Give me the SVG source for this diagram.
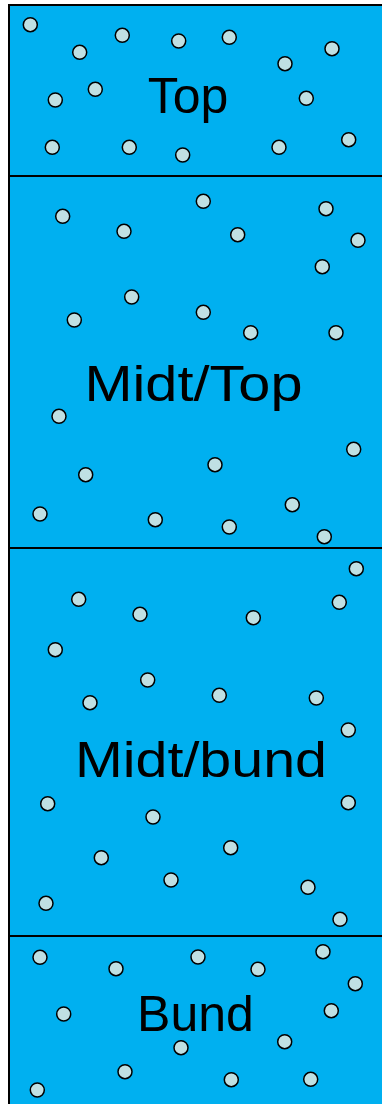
<svg xmlns="http://www.w3.org/2000/svg" width="382" height="1104" viewBox="0 0 382 1104">
<style>
.layer{fill:#00B0F0;stroke:#000;stroke-width:2}
.p{fill:#BFE0E3;stroke:#000;stroke-width:1.5}
.lbl{font-family:"Liberation Sans",Arial,sans-serif;font-size:50px;fill:#000;text-anchor:middle}
</style>
<g id="top">
<rect class="layer" x="9" y="5" width="380" height="171"/>
<g>
<circle class="p" cx="30.3" cy="24.7" r="7"/>
<circle class="p" cx="79.7" cy="52.3" r="7"/>
<circle class="p" cx="122.3" cy="35.3" r="7"/>
<circle class="p" cx="178.7" cy="41" r="7"/>
<circle class="p" cx="229.3" cy="37.3" r="7"/>
<circle class="p" cx="285" cy="63.7" r="7"/>
<circle class="p" cx="332" cy="48.7" r="7"/>
<circle class="p" cx="55.3" cy="100" r="7"/>
<circle class="p" cx="95.3" cy="89.3" r="7"/>
<circle class="p" cx="306.3" cy="98.3" r="7"/>
<circle class="p" cx="52.3" cy="147.3" r="7"/>
<circle class="p" cx="129.3" cy="147.3" r="7"/>
<circle class="p" cx="182.7" cy="155" r="7"/>
<circle class="p" cx="279" cy="147.3" r="7"/>
<circle class="p" cx="348.7" cy="139.7" r="7"/>
</g>
<text class="lbl" x="188" y="113">Top</text>
</g>
<g id="midt-top">
<rect class="layer" x="9" y="176" width="380" height="372"/>
<g>
<circle class="p" cx="62.7" cy="216.3" r="7"/>
<circle class="p" cx="124" cy="231.3" r="7"/>
<circle class="p" cx="203.3" cy="201.3" r="7"/>
<circle class="p" cx="237.7" cy="234.7" r="7"/>
<circle class="p" cx="326" cy="208.7" r="7"/>
<circle class="p" cx="358" cy="240.3" r="7"/>
<circle class="p" cx="322.3" cy="266.7" r="7"/>
<circle class="p" cx="131.7" cy="297" r="7"/>
<circle class="p" cx="74.3" cy="320" r="7"/>
<circle class="p" cx="203.3" cy="312.3" r="7"/>
<circle class="p" cx="250.7" cy="332.7" r="7"/>
<circle class="p" cx="336" cy="332.7" r="7"/>
<circle class="p" cx="59" cy="416.3" r="7"/>
<circle class="p" cx="85.7" cy="474.7" r="7"/>
<circle class="p" cx="40" cy="514" r="7"/>
<circle class="p" cx="155.3" cy="519.7" r="7"/>
<circle class="p" cx="215" cy="464.7" r="7"/>
<circle class="p" cx="229.3" cy="527" r="7"/>
<circle class="p" cx="292.3" cy="504.7" r="7"/>
<circle class="p" cx="324.3" cy="536.7" r="7"/>
<circle class="p" cx="353.7" cy="449.3" r="7"/>
</g>
<text class="lbl" x="193.5" y="401" textLength="218" lengthAdjust="spacingAndGlyphs">Midt/Top</text>
</g>
<g id="midt-bund">
<rect class="layer" x="9" y="548" width="380" height="388"/>
<g>
<circle class="p" cx="356.3" cy="568.7" r="7"/>
<circle class="p" cx="78.7" cy="599.3" r="7"/>
<circle class="p" cx="140" cy="614.3" r="7"/>
<circle class="p" cx="253.3" cy="617.7" r="7"/>
<circle class="p" cx="339.3" cy="602.3" r="7"/>
<circle class="p" cx="55.3" cy="649.7" r="7"/>
<circle class="p" cx="147.7" cy="680" r="7"/>
<circle class="p" cx="90" cy="702.7" r="7"/>
<circle class="p" cx="219.3" cy="695.3" r="7"/>
<circle class="p" cx="316.3" cy="698" r="7"/>
<circle class="p" cx="348.3" cy="730" r="7"/>
<circle class="p" cx="47.7" cy="803.7" r="7"/>
<circle class="p" cx="153" cy="817" r="7"/>
<circle class="p" cx="348.3" cy="802.7" r="7"/>
<circle class="p" cx="101.3" cy="857.7" r="7"/>
<circle class="p" cx="230.7" cy="847.7" r="7"/>
<circle class="p" cx="171" cy="880" r="7"/>
<circle class="p" cx="308" cy="887.3" r="7"/>
<circle class="p" cx="46" cy="903.3" r="7"/>
<circle class="p" cx="340" cy="919.3" r="7"/>
</g>
<text class="lbl" x="201" y="777" textLength="252" lengthAdjust="spacingAndGlyphs">Midt/bund</text>
</g>
<g id="bund">
<rect class="layer" x="9" y="936" width="380" height="175"/>
<g>
<circle class="p" cx="40" cy="957.3" r="7"/>
<circle class="p" cx="116" cy="968.7" r="7"/>
<circle class="p" cx="198" cy="957" r="7"/>
<circle class="p" cx="258" cy="969.3" r="7"/>
<circle class="p" cx="323" cy="951.7" r="7"/>
<circle class="p" cx="355.3" cy="983.7" r="7"/>
<circle class="p" cx="63.7" cy="1014" r="7"/>
<circle class="p" cx="331.3" cy="1010.7" r="7"/>
<circle class="p" cx="181" cy="1047.7" r="7"/>
<circle class="p" cx="284.7" cy="1041.7" r="7"/>
<circle class="p" cx="125" cy="1071.7" r="7"/>
<circle class="p" cx="231.3" cy="1079.7" r="7"/>
<circle class="p" cx="310.7" cy="1079.3" r="7"/>
<circle class="p" cx="37.3" cy="1090" r="7"/>
</g>
<text class="lbl" x="195.5" y="1031">Bund</text>
</g>
<g id="connectors"/>
</svg>
